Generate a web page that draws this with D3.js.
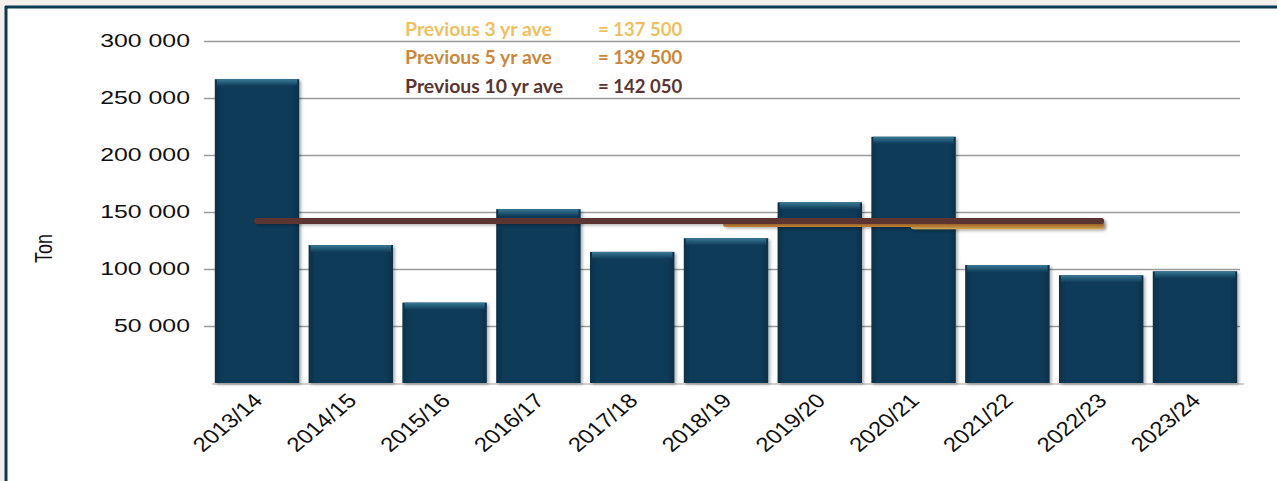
<html>
<head>
<script src="https://d3js.org/d3.v7.min.js"></script>
<style>
  body { margin: 0; background: #f4f1ed; }
  svg { display: block; }
</style>
</head>
<body>
<svg></svg>
<script>
// seasons and tonnage
var seasons = ["2013/14", "2014/15", "2015/16", "2016/17", "2017/18", "2018/19",
               "2019/20", "2020/21", "2021/22", "2022/23", "2023/24"];
var tons = [266500, 121000, 70500, 152500, 115000, 127000, 158500, 216000, 103500, 94500, 98000];
var yTicks = [50000, 100000, 150000, 200000, 250000, 300000];

// averages: label, value, first season, last season
var aveLabels = ["Previous 3 yr ave", "Previous 5 yr ave", "Previous 10 yr ave"];
var aveValues = [137500, 139500, 142050];
var aveFrom = ["2020/21", "2018/19", "2013/14"];
var aveTo = ["2022/23", "2022/23", "2022/23"];
var aveColors = ["#f0bf5e", "#cc8838", "#5c3431"];

var width = 1277, height = 481;
var margin = { left: 212, right: 37, top: 41, bottom: 98 };
var spaced = function(d) { return d3.format(",")(d).replace(/,/g, " "); };

// the source picture is stretched sideways, so text gets a wider look
function stretch(sel, s) {
  sel.each(function() {
    var len = this.getComputedTextLength();
    d3.select(this).attr("textLength", len * s).attr("lengthAdjust", "spacingAndGlyphs");
  });
}

var svg = d3.select("svg").attr("width", width).attr("height", height);

// white panel with the dark frame on left and top
svg.append("rect").attr("x", 5).attr("y", 6).attr("width", width - 5).attr("height", height - 6)
  .attr("fill", "#fff");
svg.append("line").attr("x1", 5).attr("x2", width).attr("y1", 7).attr("y2", 7)
  .attr("stroke", "#0d3a55").attr("stroke-width", 3);
svg.append("line").attr("x1", 6).attr("x2", 6).attr("y1", 6).attr("y2", height)
  .attr("stroke", "#0d3a55").attr("stroke-width", 3);

var x = d3.scaleBand()
  .domain(seasons)
  .range([margin.left, width - margin.right])
  .paddingInner(0.1)
  .paddingOuter(0.03);

var y = d3.scaleLinear()
  .domain([0, 300000])
  .range([height - margin.bottom, margin.top]);

var defs = svg.append("defs");
var shadow = defs.append("filter").attr("id", "shadow")
  .attr("filterUnits", "userSpaceOnUse")
  .attr("x", 0).attr("y", 0).attr("width", width).attr("height", height);
shadow.append("feDropShadow").attr("dx", 2).attr("dy", 1.5).attr("stdDeviation", 1.5)
  .attr("flood-color", "#000").attr("flood-opacity", 0.3);

var barGrad = defs.append("linearGradient").attr("id", "barGrad")
  .attr("x1", 0).attr("x2", 1).attr("y1", 0).attr("y2", 0);
barGrad.append("stop").attr("offset", "0%").attr("stop-color", "#0a2f47");
barGrad.append("stop").attr("offset", "8%").attr("stop-color", "#0e3b58");
barGrad.append("stop").attr("offset", "92%").attr("stop-color", "#0e3b58");
barGrad.append("stop").attr("offset", "100%").attr("stop-color", "#0a2f47");

var topGrad = defs.append("linearGradient").attr("id", "topGrad")
  .attr("x1", 0).attr("x2", 0).attr("y1", 0).attr("y2", 1);
topGrad.append("stop").attr("offset", "0%").attr("stop-color", "#3a7a95");
topGrad.append("stop").attr("offset", "100%").attr("stop-color", "#0e3b58");

// y gridlines and labels
var yAxis = svg.append("g")
  .attr("transform", "translate(" + margin.left + ",0)")
  .call(d3.axisLeft(y)
    .tickValues(yTicks)
    .tickSize(-(width - margin.right - margin.left + 8))
    .tickPadding(22)
    .tickFormat(spaced));
yAxis.select(".domain").remove();
yAxis.selectAll(".tick line").attr("stroke", "#9a9a9a").attr("stroke-width", 1.5)
  .attr("transform", "translate(-8,0)");
yAxis.selectAll(".tick text")
  .attr("fill", "#111")
  .style("font-family", "'Liberation Sans', Arial, sans-serif")
  .style("font-size", "18px")
  .call(stretch, 1.38);

// baseline
svg.append("line")
  .attr("x1", margin.left).attr("x2", width - margin.right + 4)
  .attr("y1", y(0) + 1).attr("y2", y(0) + 1)
  .attr("stroke", "#d0d0d0").attr("stroke-width", 2);

svg.append("text")
  .attr("transform", "translate(52," + y(118000) + ") rotate(-90) scale(1,1.35)")
  .attr("text-anchor", "middle")
  .style("font-family", "'Liberation Sans', Arial, sans-serif")
  .style("font-size", "18px")
  .attr("fill", "#111")
  .text("Ton");

// bars
var bars = svg.append("g").selectAll("g")
  .data(seasons)
  .join("g");

bars.append("rect")
  .attr("x", function(d) { return x(d); })
  .attr("y", function(d, i) { return y(tons[i]); })
  .attr("width", x.bandwidth())
  .attr("height", function(d, i) { return y(0) - y(tons[i]); })
  .attr("fill", "url(#barGrad)")
  .attr("filter", "url(#shadow)");

bars.append("rect")
  .attr("x", function(d) { return x(d) + 2; })
  .attr("y", function(d, i) { return y(tons[i]); })
  .attr("width", x.bandwidth() - 4)
  .attr("height", 7)
  .attr("fill", "url(#topGrad)");

// x labels
var xAxis = svg.append("g")
  .attr("transform", "translate(0," + y(0) + ")")
  .call(d3.axisBottom(x).tickSize(0).tickPadding(0));
xAxis.select(".domain").remove();
xAxis.selectAll(".tick text")
  .attr("text-anchor", "end")
  .attr("dy", 0)
  .attr("y", 0)
  .attr("transform", "translate(7,19) scale(1.2,1) rotate(-45)")
  .attr("fill", "#111")
  .style("font-family", "'Liberation Sans', Arial, sans-serif")
  .style("font-size", "20px");

// average lines, shortest first so the 10 yr line sits on top
var aveG = svg.append("g");
aveValues.forEach(function(v, i) {
  aveG.append("line")
    .attr("x1", x(aveFrom[i]) + x.bandwidth() / 2)
    .attr("x2", x(aveTo[i]) + x.bandwidth() / 2)
    .attr("y1", y(v)).attr("y2", y(v))
    .attr("stroke", aveColors[i])
    .attr("stroke-width", 6)
    .attr("stroke-linecap", "round")
    .attr("filter", "url(#shadow)");
});

// legend text
var legend = svg.append("g")
  .style("font-family", "Lato, 'Open Sans', sans-serif")
  .style("font-weight", "bold")
  .style("font-size", "18px");
aveLabels.forEach(function(t, i) {
  legend.append("text").attr("x", 405).attr("y", 35.5 + i * 28.5)
    .attr("fill", aveColors[i]).text(t)
    .call(stretch, 1.08);
  legend.append("text").attr("x", 598).attr("y", 35.5 + i * 28.5)
    .attr("fill", aveColors[i]).text("= " + spaced(aveValues[i]))
    .call(stretch, 1.03);
});
</script>
</body>
</html>
